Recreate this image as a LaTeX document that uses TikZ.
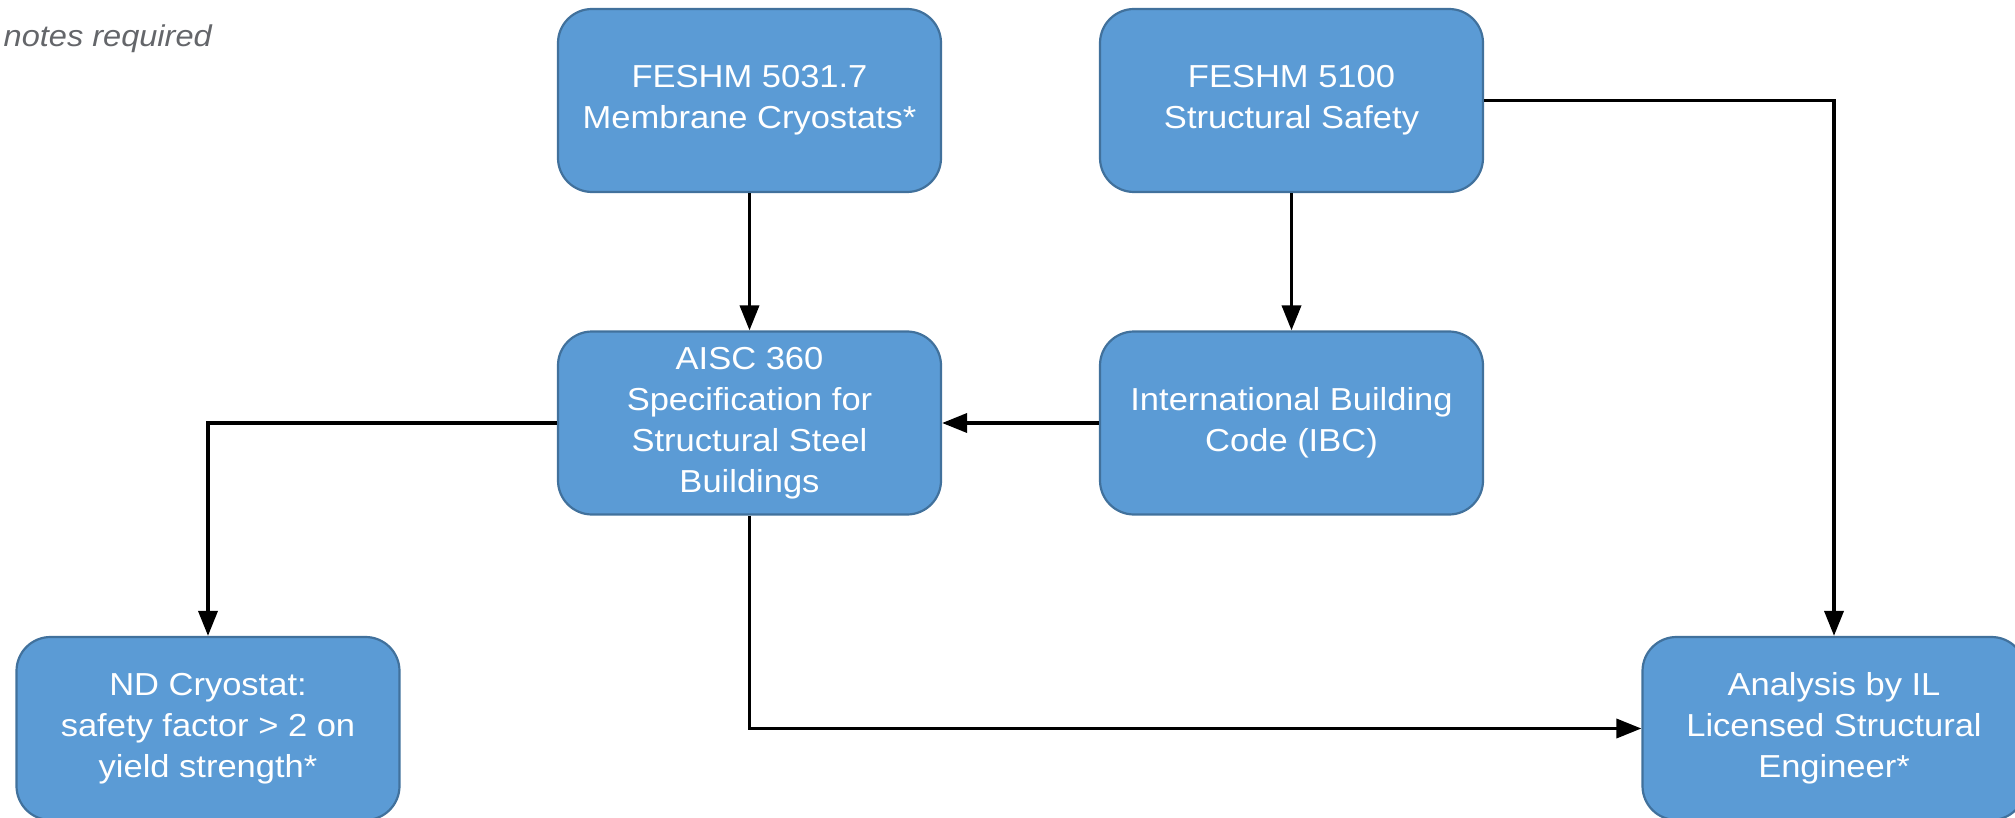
\documentclass[tikz,border=0pt]{standalone}
\usepackage{fontspec}
\setmainfont{Liberation Sans}[FakeStretch=1.085]
\usetikzlibrary{arrows.meta}
\definecolor{boxfill}{HTML}{5B9BD5}
\definecolor{boxline}{HTML}{41719C}
\definecolor{notegray}{HTML}{64666A}
\tikzset{
  box/.style={draw=boxline, fill=boxfill, line width=2.2pt, rounded corners=34pt,
    minimum width=383pt, minimum height=183pt, align=center, text=white,
    inner sep=0pt, font=\fontsize{31.8}{41.1}\selectfont,
    execute at begin node={\rule{0pt}{31pt}}},
  conn/.style={draw=black, line width=3.6pt,
    -{Triangle[length=25pt,width=19pt]}},
  notetext/.style={text=notegray, font=\fontsize{30}{34}\selectfont\itshape, inner sep=0pt}
}
\begin{document}
\begin{tikzpicture}[x=1pt,y=-1pt]
\useasboundingbox (0,0) rectangle (2015,818);
\node[notetext, anchor=base west] (note) at (3.5,46.7) {notes required};
\node[box] (f5031) at (749.5,100.5) {FESHM 5031.7\\Membrane Cryostats*};
\node[box] (f5100) at (1291.5,100.5) {FESHM 5100\\Structural Safety};
\node[box] (aisc) at (749.5,423) {AISC 360\\Specification for\\Structural Steel\\Buildings};
\node[box] (ibc) at (1291.5,423) {International Building\\Code (IBC)};
\node[box] (nd) at (208,728.5) {ND Cryostat:\\safety factor > 2 on\\yield strength*};
\node[box] (ana) at (1834,728.5) {Analysis by IL\\Licensed Structural\\Engineer*};
\draw[conn] (f5031.south) -- (aisc.north);
\draw[conn] (f5100.south) -- (ibc.north);
\draw[conn] (ibc.west) -- (aisc.east);
\draw[conn] (aisc.west) -| (nd.north);
\draw[conn] (aisc.south) |- (ana.west);
\draw[conn] (f5100.east) -| (ana.north);
\end{tikzpicture}
\end{document}
